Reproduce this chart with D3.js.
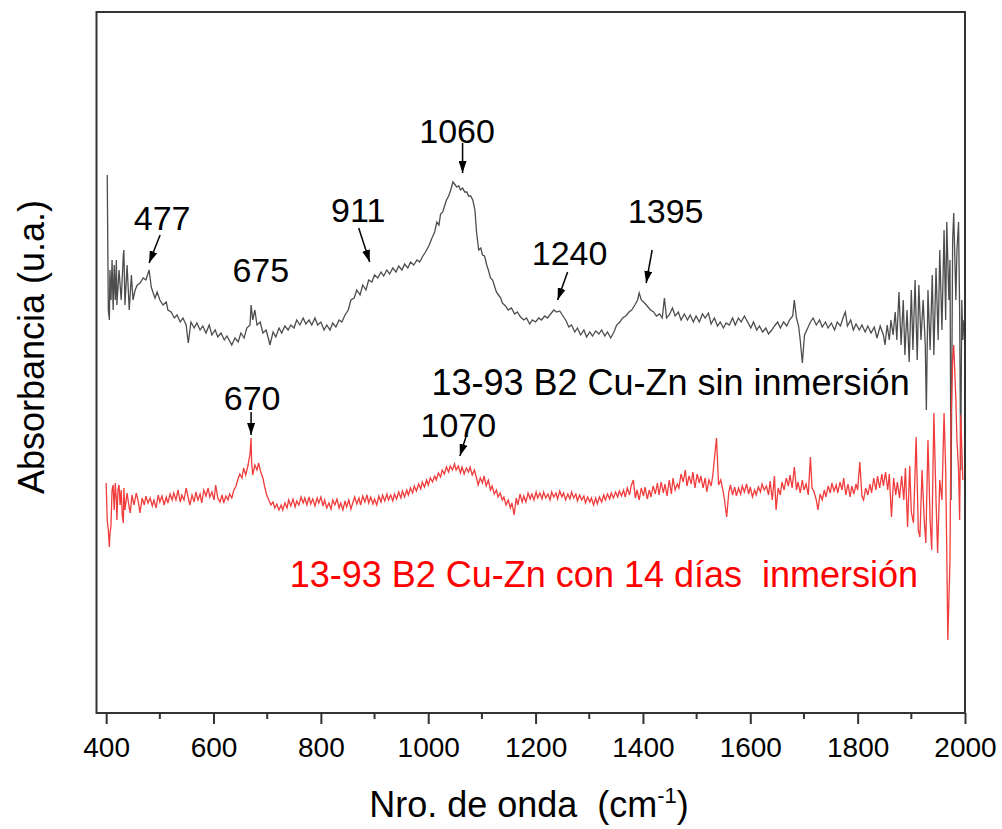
<!DOCTYPE html>
<html>
<head>
<meta charset="utf-8">
<script src="https://cdn.jsdelivr.net/npm/d3@7"></script>
<style>
  body { margin: 0; background: #fff; }
  svg { display: block; font-family: "Liberation Sans", Arial, sans-serif; }
  text { white-space: pre; }
</style>
</head>
<body>
<div id="svg-container"></div>
<script>
////////////////////////////////////////////////////////////////////
////////////////////////////  Data  ////////////////////////////////
// [wavenumber (cm-1), absorbance (u.a.)]
const sinInmersion = [
  [402,538],[404,403],[406,393],[407,443],[409,413],[411,453],[413,403],[415,448],[417,413],[419,453],[420,408],[424,443],[428,413],[432,458],[433,463],[435,408],[439,448],[443,403],[447,438],[450,413],[454,423],[458,428],[463,430],[469,435],[474,433],[480,443],[484,426],[487,421],[491,415],[495,421],
  [500,413],[506,408],[512,411],[515,403],[521,401],[527,395],[532,398],[538,391],[543,395],[549,388],[553,370],[558,391],[564,385],[569,390],[575,383],[580,387],[586,380],[592,388],[597,378],[603,383],[608,376],[614,380],[620,373],[625,377],[631,371],[634,368],[640,375],[646,371],[651,380],[657,375],[662,385],[668,388],[670,408],[673,393],[677,403],[681,388],[687,391],[692,380],[698,383],
  [703,373],[705,368],[711,381],[716,376],[722,385],[727,380],[733,387],[739,383],[744,388],[750,385],[755,393],[761,388],[767,395],[772,389],[778,393],[783,388],[789,395],[794,388],[800,391],[806,383],[811,388],[817,383],[822,390],[828,386],[834,393],[839,391],[845,398],[851,403],[856,413],[862,415],[867,423],[873,418],[878,428],[884,423],[889,433],[895,431],
  [900,438],[906,435],[912,441],[917,437],[923,443],[928,439],[934,445],[940,441],[945,447],[951,443],[956,449],[962,445],[967,451],[973,448],[979,453],[984,451],[990,457],[995,461],[1001,467],[1007,475],[1012,481],[1016,491],[1020,488],[1023,499],[1027,501],[1031,508],[1034,513],[1038,517],[1042,523],[1046,531],[1049,529],[1053,526],[1057,527],[1060,523],[1064,525],[1068,521],[1072,521],[1075,517],[1079,517],[1083,513],[1087,503],[1090,481],[1094,463],[1098,465],
  [1101,458],[1105,457],[1109,448],[1112,443],[1116,435],[1120,433],[1124,426],[1127,421],[1131,418],[1135,415],[1138,410],[1144,407],[1149,403],[1155,405],[1161,399],[1166,401],[1172,396],[1178,393],[1183,395],[1189,389],[1194,393],[1200,391],[1206,395],[1211,393],[1217,397],[1222,395],[1228,399],[1234,403],[1239,401],[1245,402],[1251,397],[1256,393],[1262,386],[1267,388],[1273,381],[1278,385],[1284,378],[1290,383],[1295,376],
  [1301,381],[1306,377],[1312,382],[1318,379],[1323,383],[1329,377],[1334,381],[1340,375],[1346,381],[1351,388],[1357,391],[1362,395],[1368,397],[1374,401],[1379,403],[1385,408],[1390,413],[1393,420],[1397,413],[1403,410],[1408,407],[1414,403],[1420,401],[1425,397],[1431,399],[1436,395],[1440,415],[1444,395],[1449,398],[1455,405],[1460,397],[1466,401],[1471,393],[1477,399],[1483,393],[1488,398],[1494,391],[1499,397],
  [1505,391],[1511,399],[1516,395],[1522,400],[1527,389],[1533,395],[1539,387],[1544,391],[1550,385],[1555,390],[1561,388],[1567,395],[1572,388],[1578,395],[1583,391],[1589,397],[1595,391],[1601,385],[1606,391],[1612,383],[1617,387],[1623,381],[1629,385],[1634,379],[1640,383],[1645,387],[1651,391],[1656,385],[1662,391],[1668,387],[1673,393],[1679,397],[1682,413],[1686,395],[1690,387],[1693,373],[1697,350],
  [1701,378],[1707,385],[1712,391],[1717,395],[1723,388],[1729,393],[1734,386],[1740,391],[1745,385],[1751,390],[1757,383],[1762,391],[1768,387],[1774,397],[1777,401],[1781,387],[1787,393],[1792,383],[1797,389],[1803,383],[1808,388],[1814,381],[1819,387],[1825,380],[1831,386],[1836,375],[1842,387],[1848,378],[1851,368],[1855,388],[1859,373],[1862,393],[1866,378],[1870,401],[1873,373],[1877,421],[1881,368],[1885,413],[1888,358],[1892,403],[1896,351],
  [1900,423],[1903,363],[1907,433],[1911,353],[1914,428],[1918,373],[1922,413],[1926,368],[1928,303],[1931,423],[1935,363],[1939,438],[1942,358],[1946,445],[1950,373],[1953,463],[1957,383],[1961,483],[1964,393],[1966,491],[1970,413],[1972,453],[1974,213],[1977,473],[1979,500],[1983,413],[1985,463],[1988,491],[1990,403],[1992,243],[1994,413],[1996,373],[1998,393]
];

const con14Dias = [
  [400,230],[402,193],[404,183],[406,166],[407,178],[409,188],[411,223],[413,228],[415,203],[417,230],[419,213],[420,193],[422,223],[424,228],[426,208],[428,223],[430,198],[432,190],[433,225],[435,203],[439,220],[443,205],[445,200],[448,218],[452,208],[456,220],[460,211],[463,200],[467,215],[471,208],[474,217],[478,210],[482,215],[486,207],[489,213],[493,205],[497,218],
  [500,211],[504,217],[508,208],[512,216],[515,210],[519,219],[523,213],[526,220],[530,213],[534,223],[538,211],[541,218],[545,213],[549,225],[553,215],[556,208],[560,218],[564,211],[567,221],[571,213],[575,219],[578,210],[582,223],[586,217],[590,225],[593,216],[597,221],
  [601,213],[604,228],[608,215],[612,211],[616,218],[619,210],[623,217],[627,213],[630,219],[634,215],[638,223],[642,227],[645,233],[649,239],[653,235],[656,245],[660,238],[664,247],[668,259],[670,275],[671,251],[673,238],[677,248],[681,243],[684,250],[688,241],[692,235],[695,227],[699,218],
  [703,213],[707,208],[711,211],[714,205],[718,209],[722,203],[726,208],[729,203],[733,210],[737,205],[740,213],[744,207],[748,214],[752,206],[755,212],[759,208],[763,216],[767,210],[770,215],[774,208],[778,216],[781,209],[785,214],[789,207],[793,215],[796,210],
  [800,216],[804,207],[807,213],[811,205],[815,210],[819,204],[822,213],[826,208],[830,214],[834,205],[837,210],[841,203],[845,212],[848,206],[852,213],[856,204],[860,211],[863,216],[867,209],[871,215],[874,208],[878,217],[882,211],[886,218],[889,210],[893,216],[897,209],
  [900,214],[904,208],[908,217],[912,211],[915,218],[919,212],[923,219],[926,213],[930,218],[934,212],[937,219],[941,214],[945,221],[949,215],[952,222],[956,216],[960,223],[963,218],[967,225],[971,220],[974,227],[978,222],[982,229],[986,224],[989,231],[993,226],[997,233],
  [1000,228],[1004,235],[1008,231],[1012,237],[1015,233],[1019,240],[1023,236],[1026,243],[1030,239],[1034,246],[1038,241],[1041,247],[1045,243],[1049,249],[1052,243],[1056,247],[1060,240],[1063,246],[1067,239],[1071,245],[1075,241],[1078,246],[1082,238],[1086,243],[1090,235],[1093,228],[1097,235],
  [1101,230],[1104,237],[1108,227],[1112,233],[1116,223],[1119,227],[1123,219],[1127,223],[1130,216],[1134,220],[1138,213],[1141,216],[1145,208],[1149,213],[1153,205],[1156,210],[1160,198],[1164,215],[1167,208],[1171,219],[1175,211],[1178,217],[1182,211],[1186,220],[1190,214],[1193,219],[1197,213],
  [1201,221],[1204,215],[1208,220],[1212,214],[1215,221],[1219,215],[1223,219],[1227,213],[1230,221],[1234,216],[1238,220],[1241,214],[1245,222],[1249,216],[1252,220],[1256,213],[1260,219],[1264,214],[1267,221],[1271,215],[1275,219],[1278,212],[1282,218],[1286,213],[1290,217],[1293,210],[1297,216],
  [1301,211],[1304,215],[1308,208],[1312,215],[1315,209],[1319,216],[1323,211],[1327,218],[1330,213],[1334,219],[1338,214],[1341,220],[1345,215],[1349,221],[1353,216],[1356,222],[1360,217],[1364,223],[1367,216],[1371,225],[1375,218],[1378,227],[1382,233],[1386,215],[1389,223],[1393,213],[1397,225],
  [1401,217],[1404,226],[1408,214],[1412,223],[1415,216],[1419,227],[1423,219],[1427,230],[1430,218],[1434,231],[1438,220],[1441,229],[1445,217],[1449,233],[1453,219],[1456,235],[1460,223],[1464,229],[1467,225],[1471,239],[1475,231],[1479,243],[1482,227],[1486,237],[1490,229],[1493,241],[1497,225],
  [1501,239],[1505,230],[1508,237],[1512,225],[1516,235],[1519,221],[1523,233],[1527,227],[1530,237],[1537,275],[1541,228],[1545,233],[1549,223],[1552,213],[1556,196],[1560,221],[1563,228],[1567,218],[1571,226],[1574,217],[1578,225],[1582,219],[1585,227],[1589,221],[1593,229],[1597,219],
  [1600,226],[1604,216],[1608,223],[1611,218],[1615,226],[1619,221],[1622,229],[1626,223],[1630,227],[1634,218],[1637,232],[1641,213],[1645,237],[1648,203],[1652,225],[1656,218],[1659,231],[1663,223],[1667,235],[1671,227],[1674,238],[1678,225],[1682,246],[1686,223],[1689,231],[1693,220],[1697,233],
  [1700,223],[1704,229],[1708,218],[1712,256],[1715,225],[1719,221],[1723,213],[1726,203],[1730,219],[1734,213],[1738,223],[1741,216],[1745,227],[1749,220],[1752,230],[1756,222],[1760,228],[1763,220],[1767,231],[1771,223],[1774,235],[1778,218],[1782,229],[1786,216],[1789,227],[1793,219],[1797,229],
  [1800,223],[1804,251],[1808,217],[1811,213],[1815,225],[1819,218],[1823,229],[1826,220],[1830,235],[1834,223],[1837,237],[1841,225],[1845,239],[1848,227],[1852,241],[1856,223],[1859,239],[1863,196],[1867,235],[1871,218],[1874,231],[1878,215],[1882,237],[1886,213],[1889,245],[1893,186],[1897,247],
  [1900,201],[1904,190],[1909,276],[1913,183],[1916,176],[1920,243],[1924,193],[1927,170],[1931,273],[1935,193],[1938,163],[1942,300],[1946,213],[1949,160],[1953,233],[1957,213],[1961,300],[1964,243],[1966,163],[1968,73],[1972,153],[1974,293],[1977,353],[1979,368],[1983,313],[1985,273],[1988,243],[1990,193],[1992,298],[1996,233]
];

const xTicks = [400, 600, 800, 1000, 1200, 1400, 1600, 1800, 2000];
const xMinorTicks = [500, 700, 900, 1100, 1300, 1500, 1700, 1900];

// peak labels: text, arrow tip [wavenumber, absorbance]
const peakLabels = ["477", "675", "911", "1060", "1240", "1395", "670", "1070"];
const peakTips = [[480, 450], [688, 431], [891, 451], [1064, 540], [1241, 413], [1406, 430], [670, 278], [1059, 257]];

const seriesNames = ["13-93 B2 Cu-Zn sin inmersión", "13-93 B2 Cu-Zn con 14 días  inmersión"];
const seriesColors = ["#4d4d4d", "#f03c3c"];
const seriesLabelColors = ["#000000", "#ff0000"];

////////////////////////////////////////////////////////////////////
////////////////////////////  Init  ///////////////////////////////
const width = 1002;
const height = 829;
const margin = { top: 12, right: 37, bottom: 116, left: 96.5 };

const svg = d3.select("#svg-container").append("svg")
  .attr("width", width).attr("height", height);

const xScale = d3.scaleLinear().domain([382, 2000]).range([margin.left, width - margin.right]);
const yScale = d3.scaleLinear().domain([0, 701]).range([height - margin.bottom, margin.top]);

// arrow head
svg.append("defs").append("marker")
  .attr("id", "head")
  .attr("viewBox", "0 -4 12 8")
  .attr("refX", 12).attr("refY", 0)
  .attr("markerWidth", 12).attr("markerHeight", 8)
  .attr("markerUnits", "userSpaceOnUse")
  .attr("orient", "auto")
  .append("path").attr("d", "M0,-4L12,0L0,4Z").attr("fill", "#000");

////////////////////////////////////////////////////////////////////
////////////////////////////  Lines  ///////////////////////////////
const line = d3.line().x((d) => xScale(d[0])).y((d) => yScale(d[1]));

[sinInmersion, con14Dias].forEach((s, i) => {
  svg.append("path")
    .datum(s)
    .attr("fill", "none")
    .attr("stroke", seriesColors[i])
    .attr("stroke-width", 1.3)
    .attr("d", line);
});

// frame
svg.append("rect")
  .attr("x", margin.left).attr("y", margin.top)
  .attr("width", width - margin.right - margin.left)
  .attr("height", height - margin.bottom - margin.top)
  .attr("fill", "none").attr("stroke", "#333").attr("stroke-width", 2);

////////////////////////////////////////////////////////////////////
////////////////////////////  Axis  ////////////////////////////////
const xAxis = d3.axisBottom(xScale)
  .tickValues(xTicks)
  .tickFormat(d3.format("d"))
  .tickSize(11)
  .tickSizeOuter(0);
const gx = svg.append("g")
  .attr("class", "x-axis")
  .attr("transform", `translate(0, ${height - margin.bottom})`)
  .call(xAxis);
gx.select(".domain").remove();
gx.selectAll("line").attr("stroke", "#333").attr("stroke-width", 2);
gx.selectAll("text")
  .attr("y", 44).attr("dy", null)
  .attr("fill", "#000")
  .style("font-size", "28px")
  .style("font-family", "'Liberation Sans', Arial, sans-serif");

svg.append("g")
  .selectAll("line")
  .data(xMinorTicks)
  .join("line")
  .attr("x1", (d) => xScale(d)).attr("x2", (d) => xScale(d))
  .attr("y1", height - margin.bottom).attr("y2", height - margin.bottom + 6)
  .attr("stroke", "#333").attr("stroke-width", 2);

// axis titles
const xTitle = svg.append("text")
  .attr("x", 529).attr("y", 817)
  .attr("text-anchor", "middle")
  .attr("fill", "#000")
  .style("font-size", "36px");
xTitle.append("tspan").text("Nro. de onda  (cm");
xTitle.append("tspan").attr("dy", -14).style("font-size", "22px").text("-1");
xTitle.append("tspan").attr("dy", 14).text(")");

svg.append("text")
  .attr("transform", "translate(44, 347) rotate(-90)")
  .attr("text-anchor", "middle")
  .attr("fill", "#000")
  .style("font-size", "36px")
  .text("Absorbancia (u.a.)");

////////////////////////////////////////////////////////////////////
////////////////////////////  Notes  ///////////////////////////////
// label offset from tip [dx, dy], arrow tail offset (null = no arrow)
const labelOffset = [[13, -33], [0, 0], [-11.5, -40], [-5.5, -30], [12, -35], [19.5, -60], [1, -25], [-1.5, -19]];
const tailOffset = [[11, -28], null, [-11, -34], [0, -30], [10, -28], [6, -33], [0, -23], [6, -19]];

peakLabels.forEach((t, i) => {
  const tx = xScale(peakTips[i][0]);
  const ty = yScale(peakTips[i][1]);
  svg.append("text")
    .attr("x", tx + labelOffset[i][0])
    .attr("y", ty + labelOffset[i][1])
    .attr("text-anchor", "middle")
    .attr("fill", "#000")
    .style("font-size", "34px")
    .text(t);
  if (tailOffset[i]) {
    svg.append("line")
      .attr("x1", tx + tailOffset[i][0]).attr("y1", ty + tailOffset[i][1])
      .attr("x2", tx).attr("y2", ty)
      .attr("stroke", "#000").attr("stroke-width", 1.5)
      .attr("marker-end", "url(#head)");
  }
});

// series names
const namePos = [[1006, 318], [742, 126]];
seriesNames.forEach((n, i) => {
  svg.append("text")
    .attr("x", xScale(namePos[i][0]))
    .attr("y", yScale(namePos[i][1]))
    .attr("fill", seriesLabelColors[i])
    .style("font-size", "36px")
    .text(n);
});
</script>
</body>
</html>
